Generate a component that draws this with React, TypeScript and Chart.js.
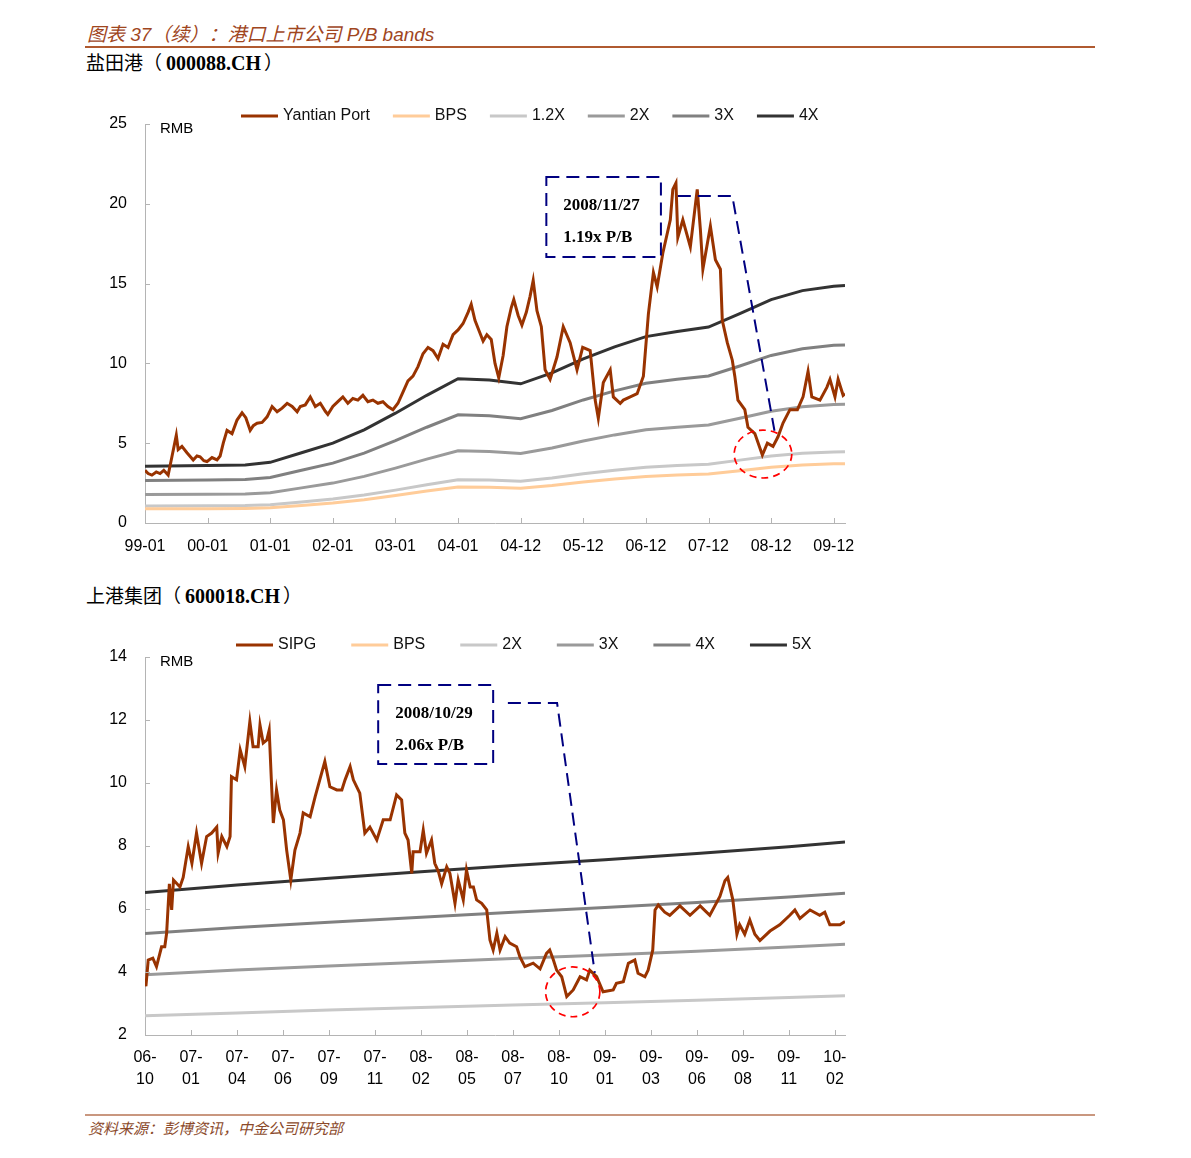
import React, { useEffect, useRef } from "react";
import { Chart, registerables } from "chart.js";

Chart.register(...registerables);
Chart.defaults.font.family = "'Liberation Sans', Arial, sans-serif";

// ---------------- Chart 1: Yantian Port (000088.CH) ----------------
const ytLabels = ["99-01", "00-01", "01-01", "02-01", "03-01", "04-01", "04-12", "05-12", "06-12", "07-12", "08-12", "09-12"];
const ytPriceX = [0.00, 0.05, 0.11, 0.18, 0.24, 0.30, 0.37, 0.43, 0.50, 0.53, 0.59, 0.67, 0.77, 0.83, 0.88, 0.94, 0.99, 1.07, 1.15, 1.20, 1.25, 1.31, 1.39, 1.47, 1.55, 1.61, 1.68, 1.73, 1.79, 1.87, 1.95, 2.03, 2.11, 2.19, 2.27, 2.35, 2.43, 2.48, 2.56, 2.64, 2.72, 2.80, 2.88, 2.92, 3.00, 3.08, 3.16, 3.24, 3.32, 3.40, 3.48, 3.56, 3.64, 3.72, 3.80, 3.88, 3.96, 4.04, 4.12, 4.20, 4.28, 4.36, 4.44, 4.52, 4.60, 4.68, 4.76, 4.84, 4.92, 5.00, 5.08, 5.16, 5.21, 5.27, 5.34, 5.40, 5.46, 5.53, 5.59, 5.65, 5.72, 5.78, 5.85, 5.89, 5.96, 6.02, 6.09, 6.15, 6.20, 6.26, 6.33, 6.39, 6.47, 6.58, 6.68, 6.79, 6.90, 6.99, 7.11, 7.19, 7.24, 7.32, 7.43, 7.48, 7.59, 7.64, 7.75, 7.86, 7.96, 8.04, 8.12, 8.18, 8.27, 8.39, 8.43, 8.48, 8.51, 8.59, 8.71, 8.82, 8.87, 8.91, 9.03, 9.11, 9.19, 9.22, 9.30, 9.38, 9.42, 9.47, 9.58, 9.63, 9.74, 9.86, 9.94, 10.03, 10.11, 10.19, 10.30, 10.42, 10.51, 10.59, 10.65, 10.78, 10.89, 10.94, 11.02, 11.07, 11.15, 11.18];
const ytPrice = [3.3, 3.1, 3.0, 3.2, 3.1, 3.3, 3.0, 4.15, 5.5, 4.6, 4.8, 4.4, 3.95, 4.2, 4.15, 3.9, 3.85, 4.1, 3.95, 4.2, 5.0, 5.8, 5.6, 6.45, 6.9, 6.6, 5.8, 6.1, 6.25, 6.3, 6.65, 7.3, 6.97, 7.2, 7.5, 7.3, 6.97, 7.3, 7.4, 7.9, 7.3, 7.5, 7.0, 6.8, 7.3, 7.6, 7.9, 7.5, 7.8, 7.7, 8.0, 7.6, 7.7, 7.5, 7.6, 7.3, 7.1, 7.5, 8.2, 8.9, 9.2, 9.8, 10.6, 11.0, 10.8, 10.3, 11.2, 11.0, 11.8, 12.1, 12.5, 13.2, 13.7, 12.7, 12.0, 11.4, 11.8, 11.5, 10.0, 9.1, 10.5, 12.3, 13.5, 14.0, 13.0, 12.4, 13.2, 14.2, 15.2, 13.3, 12.3, 9.6, 9.0, 10.4, 12.3, 11.3, 9.6, 11.0, 10.8, 7.7, 6.56, 8.8, 9.6, 7.9, 7.5, 7.7, 7.9, 8.1, 9.2, 13.1, 15.7, 14.8, 16.9, 19.0, 20.9, 21.3, 17.9, 19.0, 17.3, 20.9, 18.4, 15.9, 18.6, 16.5, 15.9, 12.7, 11.3, 10.2, 9.2, 7.7, 7.1, 6.0, 5.6, 4.26, 5.0, 4.8, 5.4, 6.26, 7.1, 7.1, 7.9, 9.5, 7.9, 7.7, 8.5, 9.0, 7.9, 9.0, 8.0, 8.1];
const ytBandX = [0, 1, 1.6, 2, 2.5, 3, 3.5, 4, 4.5, 5, 5.5, 6, 6.5, 7, 7.5, 8, 8.5, 9, 9.5, 10, 10.5, 11, 11.18];
const ytBPS = [0.89, 0.90, 0.91, 0.95, 1.10, 1.25, 1.46, 1.72, 2.00, 2.26, 2.24, 2.18, 2.35, 2.57, 2.76, 2.92, 3.00, 3.07, 3.28, 3.50, 3.64, 3.71, 3.72];
const yt12x = [1.07, 1.08, 1.09, 1.14, 1.32, 1.50, 1.75, 2.06, 2.40, 2.71, 2.69, 2.62, 2.82, 3.08, 3.31, 3.50, 3.60, 3.68, 3.94, 4.20, 4.37, 4.45, 4.46];
const yt2x = [1.78, 1.80, 1.82, 1.90, 2.20, 2.50, 2.92, 3.44, 4.00, 4.52, 4.48, 4.36, 4.70, 5.14, 5.52, 5.84, 6.00, 6.14, 6.56, 7.00, 7.28, 7.42, 7.44];
const yt3x = [2.67, 2.70, 2.73, 2.85, 3.30, 3.75, 4.38, 5.16, 6.00, 6.78, 6.72, 6.54, 7.05, 7.71, 8.28, 8.76, 9.00, 9.21, 9.84, 10.50, 10.92, 11.13, 11.16];
const yt4x = [3.56, 3.60, 3.64, 3.80, 4.40, 5.00, 5.84, 6.88, 8.00, 9.04, 8.96, 8.72, 9.40, 10.28, 11.04, 11.68, 12.00, 12.28, 13.12, 14.00, 14.56, 14.84, 14.88];
const ytYTicks = [0, 5, 10, 15, 20, 25];

// ---------------- Chart 2: SIPG (600018.CH) ----------------
const sipgLabels = [["06-", "10"], ["07-", "01"], ["07-", "04"], ["07-", "06"], ["07-", "09"], ["07-", "11"], ["08-", "02"], ["08-", "05"], ["08-", "07"], ["08-", "10"], ["09-", "01"], ["09-", "03"], ["09-", "06"], ["09-", "08"], ["09-", "11"], ["10-", "02"]];
const sipgPriceX = [0.00, 0.02, 0.07, 0.17, 0.25, 0.36, 0.43, 0.47, 0.53, 0.58, 0.62, 0.76, 0.83, 0.94, 1.02, 1.12, 1.23, 1.34, 1.45, 1.56, 1.59, 1.67, 1.78, 1.85, 1.88, 1.99, 2.07, 2.17, 2.28, 2.35, 2.46, 2.50, 2.57, 2.65, 2.70, 2.75, 2.79, 2.86, 2.93, 3.01, 3.08, 3.17, 3.26, 3.37, 3.44, 3.59, 3.70, 3.80, 3.91, 4.02, 4.17, 4.28, 4.35, 4.46, 4.53, 4.67, 4.78, 4.89, 5.04, 5.18, 5.33, 5.47, 5.58, 5.65, 5.72, 5.80, 5.83, 5.98, 6.05, 6.12, 6.23, 6.30, 6.38, 6.45, 6.56, 6.63, 6.74, 6.81, 6.92, 6.99, 7.07, 7.14, 7.21, 7.32, 7.43, 7.50, 7.57, 7.65, 7.72, 7.83, 7.93, 8.08, 8.15, 8.26, 8.44, 8.59, 8.73, 8.80, 8.88, 8.95, 9.06, 9.17, 9.31, 9.46, 9.60, 9.67, 9.82, 9.96, 10.18, 10.25, 10.40, 10.51, 10.65, 10.72, 10.87, 10.94, 11.04, 11.09, 11.16, 11.30, 11.41, 11.63, 11.85, 12.07, 12.28, 12.39, 12.50, 12.61, 12.67, 12.78, 12.87, 12.93, 13.04, 13.15, 13.26, 13.37, 13.59, 13.80, 14.02, 14.13, 14.24, 14.46, 14.67, 14.78, 14.89, 15.11, 15.22];
const sipgPrice = [3.7, 3.55, 4.38, 4.44, 4.17, 4.8, 4.8, 5.23, 6.8, 5.97, 6.92, 6.7, 7.0, 7.98, 7.45, 8.41, 7.45, 8.3, 8.41, 8.6, 7.77, 8.3, 7.98, 8.3, 10.2, 10.1, 11.05, 10.52, 11.95, 11.15, 11.15, 11.84, 11.27, 11.37, 11.68, 10.0, 8.73, 9.78, 9.14, 8.83, 7.87, 6.92, 7.87, 8.41, 9.05, 8.93, 9.57, 10.1, 10.68, 9.88, 9.78, 9.78, 10.1, 10.52, 10.1, 9.68, 8.41, 8.6, 8.19, 8.83, 8.83, 9.62, 9.46, 8.41, 8.19, 7.13, 7.82, 7.82, 8.5, 7.77, 8.19, 7.45, 7.19, 6.8, 7.34, 7.13, 6.18, 6.92, 6.29, 7.24, 6.7, 6.7, 6.29, 6.18, 5.97, 5.02, 4.7, 5.23, 4.7, 5.12, 4.92, 4.8, 4.49, 4.17, 4.28, 4.1, 4.59, 4.7, 4.38, 4.06, 3.85, 3.22, 3.43, 3.85, 3.75, 4.06, 3.85, 3.37, 3.43, 3.64, 3.69, 4.28, 4.38, 3.96, 3.85, 4.06, 4.7, 5.97, 6.13, 5.9, 5.8, 6.1, 5.8, 6.1, 5.8, 6.1, 6.4, 6.9, 7.0, 6.3, 5.2, 5.5, 5.2, 5.65, 5.2, 5.0, 5.3, 5.5, 5.8, 5.97, 5.7, 5.97, 5.8, 5.9, 5.5, 5.5, 5.6];
const sipgBandX = [0, 2, 4, 6, 8, 10, 12, 14, 15.22];
const sipgBPS = [1.30, 1.35, 1.40, 1.44, 1.48, 1.51, 1.55, 1.60, 1.63];
const sipg2x = [2.61, 2.70, 2.79, 2.87, 2.95, 3.02, 3.10, 3.19, 3.25];
const sipg3x = [3.91, 4.06, 4.19, 4.31, 4.43, 4.54, 4.66, 4.79, 4.88];
const sipg4x = [5.22, 5.41, 5.58, 5.74, 5.90, 6.05, 6.21, 6.38, 6.50];
const sipg5x = [6.52, 6.76, 6.98, 7.18, 7.38, 7.56, 7.76, 7.98, 8.13];
const sipgYTicks = [2, 4, 6, 8, 10, 12, 14];

// ---------------- helpers & plugins ----------------
const pts = (xs: number[], ys: number[]) => {
  const n = Math.min(xs.length, ys.length);
  const out: { x: number; y: number }[] = [];
  for (let i = 0; i < n; i++) out.push({ x: xs[i], y: ys[i] });
  return out;
};

const AXIS = "#b4b4b4";

const innerTicks = {
  id: "innerTicks",
  afterDraw(chart: any) {
    const { ctx, chartArea: a, scales } = chart;
    const x = scales.x, y = scales.y;
    ctx.save();
    ctx.strokeStyle = AXIS;
    ctx.lineWidth = 1;
    ctx.beginPath();
    x.ticks.forEach((t: any) => {
      const xp = Math.round(x.getPixelForValue(t.value)) + 0.5;
      ctx.moveTo(xp, a.bottom);
      ctx.lineTo(xp, a.bottom - 5);
    });
    y.ticks.forEach((t: any) => {
      const yp = Math.round(y.getPixelForValue(t.value)) + 0.5;
      ctx.moveTo(a.left, yp);
      ctx.lineTo(a.left + 5, yp);
    });
    ctx.stroke();
    ctx.restore();
  },
};

const unitLabel = {
  id: "unitLabel",
  afterDraw(chart: any) {
    const { ctx, chartArea: a } = chart;
    ctx.save();
    ctx.font = "15px 'Liberation Sans', Arial, sans-serif";
    ctx.fillStyle = "#000";
    ctx.textBaseline = "middle";
    ctx.fillText("RMB", a.left + 15, a.top + 5);
    ctx.restore();
  },
};

const bandLegend = {
  id: "bandLegend",
  afterDraw(chart: any, _args: any, o: any) {
    const { ctx, chartArea: a } = chart;
    ctx.save();
    ctx.font = "16px 'Liberation Sans', Arial, sans-serif";
    ctx.textBaseline = "middle";
    let x = a.left + o.offsetX;
    const y = a.top + o.offsetY;
    chart.data.datasets.forEach((ds: any) => {
      ctx.strokeStyle = ds.borderColor;
      ctx.lineWidth = 3;
      ctx.beginPath();
      ctx.moveTo(x, y);
      ctx.lineTo(x + 37, y);
      ctx.stroke();
      x += 37 + 5;
      ctx.fillStyle = "#111";
      ctx.fillText(ds.label, x, y);
      x += ctx.measureText(ds.label).width + o.gap;
    });
    ctx.restore();
  },
};

const noteBox = {
  id: "noteBox",
  afterDatasetsDraw(chart: any, _args: any, o: any) {
    if (!o || !o.box) return;
    const { ctx, scales } = chart;
    const px = (v: number) => scales.x.getPixelForValue(v);
    const py = (v: number) => scales.y.getPixelForValue(v);
    ctx.save();
    ctx.strokeStyle = "#000080";
    ctx.lineWidth = 2;
    ctx.setLineDash([13, 7]);
    const [x1, y1, x2, y2] = o.box;
    ctx.strokeRect(px(x1), py(y1), px(x2) - px(x1), py(y2) - py(y1));
    ctx.beginPath();
    o.path.forEach((p: number[], i: number) => {
      if (i === 0) ctx.moveTo(px(p[0]), py(p[1]));
      else ctx.lineTo(px(p[0]), py(p[1]));
    });
    ctx.stroke();
    const [cx, cy, rx, ry] = o.circle;
    ctx.strokeStyle = "#ff0000";
    ctx.lineWidth = 1.7;
    ctx.setLineDash([7, 5]);
    ctx.beginPath();
    ctx.ellipse(px(cx), py(cy), Math.abs(px(cx + rx) - px(cx)), Math.abs(py(cy + ry) - py(cy)), 0, 0, Math.PI * 2);
    ctx.stroke();
    ctx.setLineDash([]);
    ctx.fillStyle = "#000";
    ctx.font = "bold 17px 'Liberation Serif', 'Times New Roman', serif";
    ctx.textBaseline = "alphabetic";
    o.text.forEach((t: string, i: number) => ctx.fillText(t, px(x1) + 17, py(y1) + 33 + i * 32));
    ctx.restore();
  },
};

type BandSpec = { label: string; values: number[]; color: string };

function makeConfig(p: any): any {
  const datasets: any[] = [
    {
      label: p.priceLabel,
      data: pts(p.priceX, p.priceY),
      borderColor: "#993300",
      borderWidth: 3,
      pointRadius: 0,
      tension: 0,
    },
    ...p.bands.map((b: BandSpec) => ({
      label: b.label,
      data: pts(p.bandX, b.values),
      borderColor: b.color,
      borderWidth: 3,
      pointRadius: 0,
      tension: 0,
    })),
  ];
  return {
    type: "line",
    data: { datasets },
    plugins: [innerTicks, unitLabel, bandLegend, noteBox],
    options: {
      responsive: false,
      animation: false,
      events: [],
      layout: { padding: p.padding },
      scales: {
        x: {
          type: "linear",
          min: 0,
          max: p.xMax,
          grid: { display: false, drawTicks: false },
          border: { display: true, color: AXIS, width: 1 },
          afterBuildTicks: (s: any) => {
            s.ticks = p.labels.map((_: any, i: number) => ({ value: i }));
          },
          afterFit: (s: any) => {
            s.height = p.xAxisHeight;
          },
          ticks: {
            autoSkip: false,
            maxRotation: 0,
            minRotation: 0,
            padding: p.xTickPad,
            color: "#000",
            font: { size: 16, lineHeight: p.xLineHeight },
            callback: (_v: any, i: number) => p.labels[i],
          },
        },
        y: {
          min: p.yTicks[0],
          max: p.yTicks[p.yTicks.length - 1],
          grid: { display: false, drawTicks: false },
          border: { display: true, color: AXIS, width: 1 },
          afterBuildTicks: (s: any) => {
            s.ticks = p.yTicks.map((v: number) => ({ value: v }));
          },
          afterFit: (s: any) => {
            s.width = 45;
          },
          ticks: {
            padding: 18,
            color: "#000",
            font: { size: 16 },
            callback: (v: any) => String(v),
          },
        },
      },
      plugins: {
        legend: { display: false },
        tooltip: { enabled: false },
        bandLegend: p.legend,
        noteBox: p.note,
      },
    },
  };
}

const chart1Config = () =>
  makeConfig({
    priceLabel: "Yantian Port",
    priceX: ytPriceX,
    priceY: ytPrice,
    bandX: ytBandX,
    bands: [
      { label: "BPS", values: ytBPS, color: "#ffcc99" },
      { label: "1.2X", values: yt12x, color: "#c8c8c8" },
      { label: "2X", values: yt2x, color: "#9a9a9a" },
      { label: "3X", values: yt3x, color: "#808080" },
      { label: "4X", values: yt4x, color: "#333333" },
    ],
    labels: ytLabels,
    yTicks: ytYTicks,
    xMax: 11.18,
    padding: { left: 40, right: 115, top: 34, bottom: 12 },
    xAxisHeight: 35,
    xTickPad: 14,
    xLineHeight: 1.2,
    legend: { offsetX: 96, offsetY: -8, gap: 23 },
    note: {
      box: [6.41, 21.68, 8.24, 16.67],
      path: [[8.51, 20.49], [9.38, 20.49], [10.06, 5.64]],
      circle: [9.87, 4.32, 0.46, 1.5],
      text: ["2008/11/27", "1.19x P/B"],
    },
  });

const chart2Config = () =>
  makeConfig({
    priceLabel: "SIPG",
    priceX: sipgPriceX,
    priceY: sipgPrice,
    bandX: sipgBandX,
    bands: [
      { label: "BPS", values: sipgBPS, color: "#ffcc99" },
      { label: "2X", values: sipg2x, color: "#c8c8c8" },
      { label: "3X", values: sipg3x, color: "#9a9a9a" },
      { label: "4X", values: sipg4x, color: "#808080" },
      { label: "5X", values: sipg5x, color: "#333333" },
    ],
    labels: sipgLabels,
    yTicks: sipgYTicks,
    xMax: 15.22,
    padding: { left: 40, right: 115, top: 37, bottom: 20 },
    xAxisHeight: 55,
    xTickPad: 12,
    xLineHeight: 1.375,
    legend: { offsetX: 91, offsetY: -12, gap: 35 },
    note: {
      box: [5.07, 13.11, 7.57, 10.6],
      path: [[7.89, 12.54], [8.96, 12.54], [9.78, 3.97]],
      circle: [9.3, 3.37, 0.59, 0.79],
      text: ["2008/10/29", "2.06x P/B"],
    },
  });

function BandChart({ make, left, top, width, height }: any) {
  const ref = useRef<HTMLCanvasElement>(null);
  useEffect(() => {
    const chart = new Chart(ref.current as HTMLCanvasElement, make());
    return () => chart.destroy();
  }, [make]);
  return (
    <canvas
      ref={ref}
      width={width}
      height={height}
      style={{ position: "absolute", left, top, width, height }}
    />
  );
}

const CJK = "'Noto Sans CJK SC', 'Liberation Sans', sans-serif";
const SERIF_B = "'Liberation Serif', 'Times New Roman', serif";

function SubTitle({ name, code, top }: { name: string; code: string; top: number }) {
  return (
    <div style={{ position: "absolute", left: 86, top, whiteSpace: "nowrap", lineHeight: "22px", color: "#000" }}>
      <span style={{ fontFamily: CJK, fontSize: 19, fontWeight: 400 }}>{name}（</span>
      <span style={{ fontFamily: SERIF_B, fontSize: 20, fontWeight: 700, margin: "0 3px 0 4px" }}>{code}</span>
      <span style={{ fontFamily: CJK, fontSize: 19, fontWeight: 400 }}>）</span>
    </div>
  );
}

export default function App() {
  return (
    <div style={{ position: "absolute", left: 0, top: 0, width: 1191, height: 1158, background: "#fff", overflow: "hidden" }}>
      <div
        style={{
          position: "absolute",
          left: 87,
          top: 24,
          fontSize: 19,
          fontStyle: "italic",
          color: "#a0461e",
          fontFamily: "'Liberation Sans', 'Noto Sans CJK SC', sans-serif",
          whiteSpace: "nowrap",
          lineHeight: "22px",
        }}
      >
        图表 37（续）：港口上市公司 P/B bands
      </div>
      <div style={{ position: "absolute", left: 85, top: 46, width: 1010, height: 2, background: "#b05a30" }} />
      <SubTitle name="盐田港" code="000088.CH" top={51} />
      <BandChart make={chart1Config} left={60} top={90} width={900} height={480} />
      <SubTitle name="上港集团" code="600018.CH" top={584} />
      <BandChart make={chart2Config} left={60} top={620} width={900} height={490} />
      <div style={{ position: "absolute", left: 85, top: 1114, width: 1010, height: 2, background: "#c9977f" }} />
      <div
        style={{
          position: "absolute",
          left: 88,
          top: 1119,
          fontSize: 15,
          fontStyle: "italic",
          color: "#8b4a2b",
          fontFamily: CJK,
          whiteSpace: "nowrap",
          lineHeight: "18px",
        }}
      >
        资料来源：彭博资讯，中金公司研究部
      </div>
    </div>
  );
}
